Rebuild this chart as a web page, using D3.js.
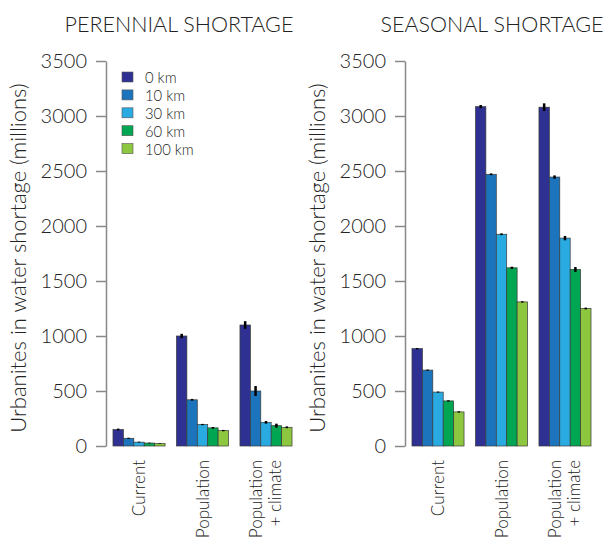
<!DOCTYPE html>
<html>
<head>
<meta charset="utf-8">
<script src="https://cdn.jsdelivr.net/npm/d3@7"></script>
<style>
  body { margin: 0; background: #fff; }
  svg text { font-family: Lato, "Open Sans", sans-serif; font-weight: 300; fill: #222; }
</style>
</head>
<body>
<svg id="chart" width="608" height="538"></svg>
<script>
// Scenarios and distance series
const scenarios = ['Current', 'Population', 'Population + climate'];
const scenarioLines = [['Current'], ['Population'], ['Population', '+ climate']];
const distances = ['0 km', '10 km', '30 km', '60 km', '100 km'];
const colors = ['#2e3192', '#1c75bc', '#29abe2', '#00a651', '#8dc63f'];
const yTicks = [0, 500, 1000, 1500, 2000, 2500, 3000, 3500];

// Values (millions), one row per scenario, one column per distance
const perennial = [
  [150, 70, 35, 27, 22],
  [1000, 420, 195, 165, 140],
  [1100, 500, 215, 185, 170]
];
const perennialErr = [
  [8, 5, 4, 3, 3],
  [20, 8, 6, 8, 6],
  [35, 45, 12, 18, 8]
];
const seasonal = [
  [885, 690, 490, 410, 310],
  [3085, 2470, 1925, 1620, 1310],
  [3080, 2445, 1890, 1605, 1250]
];
const seasonalErr = [
  [6, 5, 5, 6, 6],
  [15, 8, 8, 10, 6],
  [35, 15, 20, 22, 8]
];

const panels = [
  { title: 'PERENNIAL SHORTAGE', values: perennial, errs: perennialErr, ox: 0, titleX: 179, legend: true },
  { title: 'SEASONAL SHORTAGE', values: seasonal, errs: seasonalErr, ox: 299, titleX: 492, legend: false }
];

const svg = d3.select('#chart');
const y = d3.scaleLinear().domain([0, 3500]).range([446, 61]);

panels.forEach((p) => {
  const g = svg.append('g').attr('transform', `translate(${p.ox},0)`);

  // Title
  svg.append('text')
    .attr('x', p.titleX).attr('y', 32)
    .attr('text-anchor', 'middle')
    .style('font-size', '21.5px')
    .text(p.title);

  // Y axis
  const axis = g.append('g').attr('transform', 'translate(106,0)')
    .call(d3.axisLeft(y).tickValues(yTicks).tickFormat(d3.format('d'))
      .tickSize(10).tickPadding(9).tickSizeOuter(0));
  axis.select('.domain').attr('stroke', '#888').attr('stroke-width', 1.5);
  axis.selectAll('.tick line').attr('stroke', '#888').attr('stroke-width', 1.5);
  axis.selectAll('.tick text').style('font-size', '20px').attr('fill', '#222').style('font-family', null);

  g.append('text')
    .attr('transform', 'translate(26,258) rotate(-90)')
    .attr('text-anchor', 'middle')
    .style('font-size', '22px')
    .text('Urbanites in water shortage (millions)');

  // Bars
  const x0 = d3.scaleBand().domain(scenarios).range([106, 299]).paddingInner(0.18).paddingOuter(0.11);
  const x1 = d3.scaleBand().domain(distances).range([0, x0.bandwidth()]);

  scenarios.forEach((s, si) => {
    const grp = g.append('g').attr('transform', `translate(${x0(s)},0)`);
    grp.selectAll('rect')
      .data(distances)
      .join('rect')
      .attr('x', (d) => x1(d))
      .attr('y', (d, di) => y(p.values[si][di]))
      .attr('width', x1.bandwidth())
      .attr('height', (d, di) => y(0) - y(p.values[si][di]))
      .attr('fill', (d, di) => colors[di])
      .attr('stroke', '#3a3a3a')
      .attr('stroke-width', 0.7);
    grp.selectAll('line.err')
      .data(distances)
      .join('line')
      .attr('class', 'err')
      .attr('x1', (d) => x1(d) + x1.bandwidth() / 2)
      .attr('x2', (d) => x1(d) + x1.bandwidth() / 2)
      .attr('y1', (d, di) => y(p.values[si][di] - p.errs[si][di]))
      .attr('y2', (d, di) => y(p.values[si][di] + p.errs[si][di]))
      .attr('stroke', '#000')
      .attr('stroke-width', 2.5);

    // Category label, rotated
    const cx = x0(s) + x0.bandwidth() / 2;
    const lines = scenarioLines[si];
    lines.forEach((t, li) => {
      const off = (li - (lines.length - 1) / 2) * 19;
      g.append('text')
        .attr('transform', `translate(${cx + off + 6},460) rotate(-90)`)
        .attr('text-anchor', 'end')
        .style('font-size', '17px')
        .text(t);
    });
  });

  // Legend
  if (p.legend) {
    const lg = g.append('g').attr('transform', 'translate(122,77)');
    const row = lg.selectAll('g').data(distances).join('g')
      .attr('transform', (d, i) => `translate(0,${i * 17.9})`);
    row.append('rect')
      .attr('x', 0).attr('y', -5).attr('width', 11).attr('height', 10)
      .attr('fill', (d, i) => colors[i])
      .attr('stroke', '#555').attr('stroke-width', 0.6);
    row.append('text')
      .attr('x', 23).attr('y', 6)
      .style('font-size', '14.8px')
      .text((d) => d);
  }
});
</script>
</body>
</html>
